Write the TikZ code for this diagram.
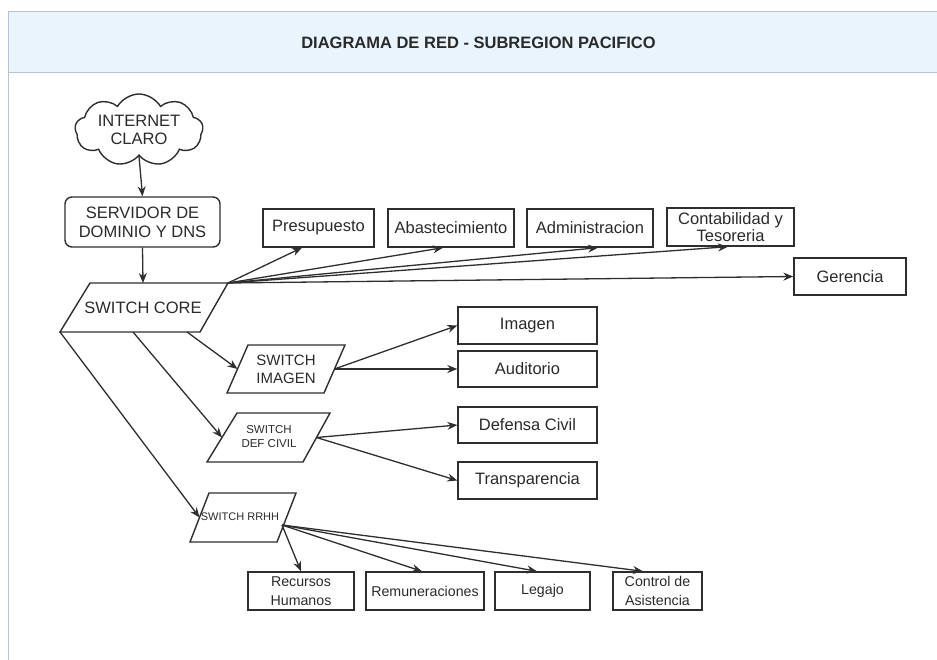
\documentclass[tikz,border=0pt]{standalone}
\usepackage{fontspec}
\setmainfont{Liberation Sans}
\usetikzlibrary{shapes.symbols,arrows.meta,calc}
\definecolor{lc}{HTML}{2E2E2E}
\definecolor{tc}{HTML}{2A2A2A}
\definecolor{bandfill}{HTML}{EAF4FD}
\definecolor{framec}{HTML}{B4C4D4}
\begin{document}
\begin{tikzpicture}[x=1pt,y=-1pt,
  box/.style={draw=lc, line width=1.4pt, rectangle, inner sep=0pt, align=center,
    font=\fontsize{16.5}{19}\selectfont, text=tc, minimum height=38pt},
  smallbox/.style={box, font=\fontsize{14.2}{18.5}\selectfont},
  conn/.style={draw=lc, line width=1.3pt, -{Stealth[length=10pt,width=8pt]}},
  para/.style={draw=lc, line width=1.4pt, line join=miter},
  ptext/.style={align=center, text=tc, inner sep=0pt}]
\useasboundingbox (0,0) rectangle (937,660);
% frame and title band
\fill[bandfill] (8,12) rectangle (937,73);
\draw[framec, line width=1pt] (8,660) -- (8,12) -- (937,12);
\draw[framec, line width=1pt] (8,73) -- (937,73);
\node[font=\bfseries\fontsize{16.5}{19}\selectfont, text=tc] (title) at (478.5,43) {DIAGRAMA DE RED - SUBREGION PACIFICO};

% cloud and server
\node[cloud, cloud puffs=9, cloud puff arc=120, cloud ignores aspect, draw=lc, line width=1.4pt,
  minimum width=128pt, minimum height=72pt, inner sep=0pt, align=center,
  font=\fontsize{16.5}{18.5}\selectfont, text=tc] (internet) at (139,130) {INTERNET\\CLARO};
\node[box, rounded corners=7pt, minimum width=155pt, minimum height=50pt] (server) at (142.5,222) {SERVIDOR DE\\DOMINIO Y DNS};

% switch core
\coordinate (core-tl) at (90,283);
\coordinate (core-tr) at (228,283);
\coordinate (core-br) at (200,332);
\coordinate (core-bl) at (60,332);
\coordinate (core-b1) at (133,332);
\coordinate (core-b2) at (187,332);
\coordinate (core-top) at (143,283);
\draw[para] (core-tl) -- (core-tr) -- (core-br) -- (core-bl) -- cycle;
\node[ptext, font=\fontsize{16.5}{18.5}\selectfont] (core) at (143,308) {SWITCH CORE};

% switch imagen
\coordinate (img-in) at (237.5,369);
\coordinate (img-out) at (334.5,369);
\draw[para] (248,345) -- (345,345) -- (324,393) -- (227,393) -- cycle;
\node[ptext, font=\fontsize{15}{18}\selectfont] (swimg) at (286,369) {SWITCH\\IMAGEN};

% switch def civil
\coordinate (def-in) at (222,437.5);
\coordinate (def-out) at (316.5,437.5);
\draw[para] (237,413) -- (330,413) -- (303,462) -- (207,462) -- cycle;
\node[ptext, font=\fontsize{11.5}{14}\selectfont] (swdef) at (269,437) {SWITCH\\DEF CIVIL};

% switch rrhh
\coordinate (rr-in) at (199.5,517.5);
\coordinate (rr-out) at (282,525);
\draw[para] (209,493) -- (296,493) -- (277,542) -- (190,542) -- cycle;
\node[ptext, font=\fontsize{11}{13}\selectfont] (swrr) at (240,517) {SWITCH RRHH};

% top boxes
\node[box, minimum width=111pt] (pres) at (318.5,228) {Presupuesto};
\node[box, minimum width=126pt] (abas) at (451,228) {Abastecimiento};
\node[box, minimum width=126pt] (admin) at (590,228) {Administracion};
\node[box, minimum width=127pt, font=\fontsize{16.5}{17}\selectfont] (cont) at (730.5,227) {Contabilidad y\\Tesoreria};
\node[box, minimum width=112pt, minimum height=37pt] (ger) at (850,276.5) {Gerencia};

% middle boxes
\node[box, minimum width=139pt, minimum height=37pt] (imagen) at (527.5,325.5) {Imagen};
\node[box, minimum width=139pt, minimum height=36pt] (audi) at (527.5,369) {Auditorio};
\node[box, minimum width=139pt, minimum height=36pt] (defensa) at (527.5,425) {Defensa Civil};
\node[box, minimum width=139pt, minimum height=37pt] (transp) at (527.5,480.5) {Transparencia};

% bottom boxes
\node[smallbox, minimum width=106pt] (recur) at (301,591) {Recursos\\Humanos};
\node[smallbox, minimum width=118pt] (remun) at (425,591) {Remuneraciones};
\node[smallbox, minimum width=95pt] (legajo) at (542.5,591) {Legajo};
\node[smallbox, minimum width=89pt] (control) at (657.5,591) {Control de\\Asistencia};

% connectors
\draw[conn] (internet.south) -- (server.north);
\draw[conn] (server.south) -- (core-top);
\draw[conn] (core-tr) -- ([xshift=-16.5pt]pres.south);
\draw[conn] (core-tr) -- ([xshift=-8pt]abas.south);
\draw[conn] (core-tr) -- ([xshift=8pt]admin.south);
\draw[conn] (core-tr) -- ([xshift=-2.5pt]cont.south);
\draw[conn] (core-tr) -- (ger.west);
\draw[conn] (core-b2) -- (img-in);
\draw[conn] (core-b1) -- (def-in);
\draw[conn] (core-bl) -- (rr-in);
\draw[conn] (img-out) -- (imagen.west);
\draw[conn] (img-out) -- (audi.west);
\draw[conn] (def-out) -- (defensa.west);
\draw[conn] (def-out) -- (transp.west);
\draw[conn] (rr-out) -- (recur.north);
\draw[conn] (rr-out) -- ([xshift=-3pt]remun.north);
\draw[conn] (rr-out) -- ([xshift=-5.5pt]legajo.north);
\draw[conn] (rr-out) -- ([xshift=-14.5pt]control.north);
\end{tikzpicture}
\end{document}
